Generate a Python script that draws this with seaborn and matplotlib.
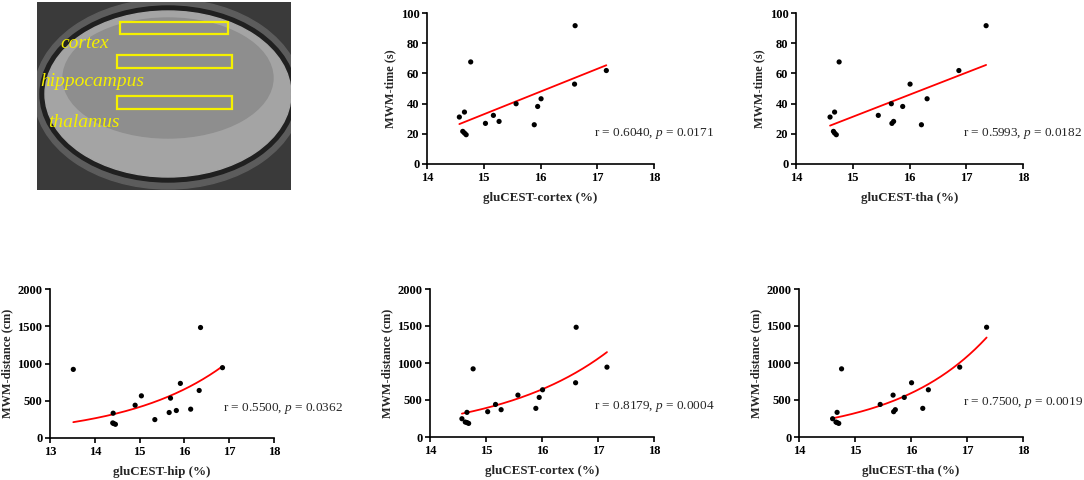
import numpy as np
import pandas as pd
import matplotlib
matplotlib.use("Agg")
import matplotlib.pyplot as plt
from matplotlib.patches import Rectangle, Ellipse
import seaborn as sns

# per-subject values
glucest_cortex = [14.57, 14.66, 14.63, 14.66, 14.69, 14.77, 15.03, 15.17, 15.27, 15.57, 15.89, 15.95, 16.01, 16.60, 16.61, 17.16]
glucest_tha = [14.60, 14.68, 14.66, 14.68, 14.71, 14.76, 15.69, 15.45, 15.72, 15.68, 16.21, 15.88, 16.31, 16.01, 17.35, 16.87]
glucest_hip = [15.34, 14.41, 14.40, 14.42, 14.46, 13.52, 15.66, 14.90, 15.82, 15.04, 16.14, 15.69, 16.33, 15.91, 16.36, 16.85]
mwm_time = [31.1, 34.4, 21.6, 20.5, 19.4, 67.6, 26.9, 32.2, 28.2, 39.9, 26.0, 38.1, 43.2, 52.9, 91.6, 61.9]
mwm_distance = [247, 333, 202, 195, 184, 921, 342, 440, 369, 566, 387, 535, 638, 733, 1483, 944]

stats_text = {
    ("cortex", "time"): ("0.6040", "0.0171"),
    ("tha", "time"): ("0.5993", "0.0182"),
    ("hip", "distance"): ("0.5500", "0.0362"),
    ("cortex", "distance"): ("0.8179", "0.0004"),
    ("tha", "distance"): ("0.7500", "0.0019"),
}

df = pd.DataFrame({
    "cortex": glucest_cortex,
    "tha": glucest_tha,
    "hip": glucest_hip,
    "time": mwm_time,
    "distance": mwm_distance,
})

sns.set_style("ticks")
plt.rcParams["font.family"] = ["Liberation Serif", "DejaVu Serif"]
plt.rcParams["axes.linewidth"] = 1.2
plt.rcParams["xtick.major.width"] = 1.2
plt.rcParams["ytick.major.width"] = 1.2
plt.rcParams["xtick.major.size"] = 3.5
plt.rcParams["ytick.major.size"] = 3.5
plt.rcParams["mathtext.fontset"] = "custom"
plt.rcParams["mathtext.it"] = "Liberation Serif:italic"
plt.rcParams["mathtext.rm"] = "Liberation Serif"

W, H = 1084, 480
fig = plt.figure(figsize=(W / 100, H / 100), dpi=100)


def px_axes(x0, y0, x1, y1):
    # rectangle in image pixels (top-left origin)
    return fig.add_axes([x0 / W, 1 - y1 / H, (x1 - x0) / W, (y1 - y0) / H])


def exp_fit(x, y):
    # least-squares exponential growth y = a * exp(k * (x - x0))
    x = np.asarray(x, float)
    y = np.asarray(y, float)
    best = None
    for k in np.linspace(0.0, 2.0, 4001):
        e = np.exp(k * (x - x.min()))
        a = (y * e).sum() / (e * e).sum()
        sse = ((y - a * e) ** 2).sum()
        if best is None or sse < best[0]:
            best = (sse, a, k)
    _, a, k = best
    xs = np.linspace(x.min(), x.max(), 200)
    return xs, a * np.exp(k * (xs - x.min()))


def style_axes(ax, xlabel, ylabel, xticks, yticks):
    sns.despine(ax=ax)
    ax.set_xlim(xticks[0], xticks[-1])
    ax.set_ylim(yticks[0], yticks[-1])
    ax.set_xticks(xticks)
    ax.set_yticks(yticks)
    ax.set_xlabel(xlabel, fontsize=9.4, fontweight="bold", labelpad=6)
    ax.set_ylabel(ylabel, fontsize=8.8, fontweight="bold", labelpad=3)
    for lab in ax.get_xticklabels() + ax.get_yticklabels():
        lab.set_fontweight("bold")
        lab.set_fontsize(9)
    ax.tick_params(colors="black", pad=2)
    for sp in ax.spines.values():
        sp.set_color("black")


def add_stats(ax, key, tx, ty):
    r, p = stats_text[key]
    ax.text(tx, ty, f"r = {r}, $\\mathit{{p}}$ = {p}", fontsize=9.5, va="center",
            ha="left", clip_on=False)


panels = [
    # (x, y, axes rect in px, xticks, yticks, linear?, stats position)
    ("cortex", "time", (427, 13, 654, 164), [14, 15, 16, 17, 18], [0, 20, 40, 60, 80, 100], True, (16.95, 20.5)),
    ("tha", "time", (796, 13, 1023, 164), [14, 15, 16, 17, 18], [0, 20, 40, 60, 80, 100], True, (16.94, 20.3)),
    ("hip", "distance", (50, 289, 274, 438), [13, 14, 15, 16, 17, 18], [0, 500, 1000, 1500, 2000], False, (16.87, 402)),
    ("cortex", "distance", (430, 289, 654, 437), [14, 15, 16, 17, 18], [0, 500, 1000, 1500, 2000], False, (16.92, 413)),
    ("tha", "distance", (799, 289, 1023, 437), [14, 15, 16, 17, 18], [0, 500, 1000, 1500, 2000], False, (16.93, 467)),
]

xlabels = {"cortex": "gluCEST-cortex (%)", "tha": "gluCEST-tha (%)", "hip": "gluCEST-hip (%)"}
ylabels = {"time": "MWM-time (s)", "distance": "MWM-distance (cm)"}

for xcol, ycol, rect, xt, yt, linear, pos in panels:
    ax = px_axes(*rect)
    if linear:
        sns.regplot(data=df, x=xcol, y=ycol, ax=ax, scatter=False, ci=None,
                    truncate=True, line_kws={"color": "red", "lw": 1.3})
    else:
        xs, ys = exp_fit(df[xcol], df[ycol])
        sns.lineplot(x=xs, y=ys, ax=ax, color="red", lw=1.3)
    sns.scatterplot(data=df, x=xcol, y=ycol, ax=ax, color="black", s=14,
                    edgecolor="none", zorder=3)
    style_axes(ax, xlabels[xcol], ylabels[ycol], xt, yt)
    add_stats(ax, (xcol, ycol), *pos)

# MRI slice sketch with ROI boxes
img = px_axes(37, 2, 291, 190)
img.set_xlim(37, 291)
img.set_ylim(190, 2)
img.set_xticks([])
img.set_yticks([])
img.add_patch(Rectangle((37, 2), 254, 188, color="#3a3a3a", zorder=0))
img.add_patch(Ellipse((168, 94), 268, 190, color="#5c5c5c", zorder=1))
img.add_patch(Ellipse((168, 94), 256, 176, color="#202020", zorder=1))
img.add_patch(Ellipse((168, 94), 246, 166, color="#a4a4a4", zorder=2))
img.add_patch(Ellipse((168, 78), 210, 120, color="#8e8e8e", zorder=2))
roi_boxes = [(120, 22, 108, 12), (117, 55, 115, 13), (117, 96, 115, 13)]
for bx, by, bw, bh in roi_boxes:
    img.add_patch(Rectangle((bx, by), bw, bh, fill=False, ec="#f5f000", lw=1.6, zorder=4))
for label, tx, ty in [("cortex", 60, 43), ("hippocampus", 40, 82), ("thalamus", 48, 123)]:
    img.text(tx, ty, label, color="#f5f000", fontsize=14, style="italic",
             va="center", ha="left", zorder=5)
for sp in img.spines.values():
    sp.set_visible(False)

fig.savefig("out.png", dpi=100)
